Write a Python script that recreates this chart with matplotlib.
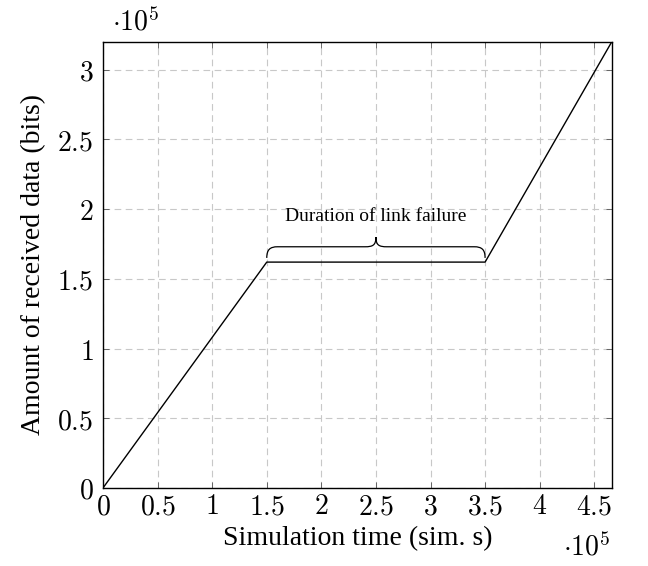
import matplotlib
matplotlib.use("Agg")
import matplotlib.pyplot as plt
from matplotlib.path import Path
from matplotlib.patches import PathPatch
from matplotlib.ticker import FuncFormatter

plt.rcParams['mathtext.fontset'] = 'cm'

# Data (in units of 1e5)
time_pts = [0.0, 1.5, 3.5, 4.66]
data_pts = [0.0, 1.62, 1.62, 3.2]
failure_start = 1.5
failure_end = 3.5
x_ticks = [0, 0.5, 1, 1.5, 2, 2.5, 3, 3.5, 4, 4.5]
y_ticks = [0, 0.5, 1, 1.5, 2, 2.5, 3]
xmax, ymax = 4.66, 3.2

fig = plt.figure(figsize=(6.48, 5.66), dpi=100)
ax = fig.add_axes([0.159, 0.138, 0.785, 0.788])

ax.plot(time_pts, data_pts, color='black', lw=1.0, zorder=3)
ax.set_xlim(0, xmax)
ax.set_ylim(0, ymax)
ax.set_xticks(x_ticks)
ax.set_yticks(y_ticks)
fmt = FuncFormatter(lambda v, p: r'$%g$' % v)
ax.xaxis.set_major_formatter(fmt)
ax.yaxis.set_major_formatter(fmt)
ax.tick_params(direction='in', length=4, width=0.6, color='#555555',
               top=True, right=True, labelsize=20)
ax.tick_params(axis='y', pad=7)
ax.tick_params(axis='x', pad=3)
ax.grid(True, color='#c8c8c8', linestyle=(0, (6, 4)), lw=0.8)
for s in ax.spines.values():
    s.set_linewidth(1.0)

serif = ['Liberation Serif', 'DejaVu Serif']
ax.set_xlabel('Simulation time (sim. s)', fontsize=20, family=serif, labelpad=4)
ax.set_ylabel('Amount of received data (bits)', fontsize=20, family=serif, labelpad=8)

# Brace above the flat segment
level = data_pts[1]
b0 = level + 0.03
b1 = level + 0.11
b2 = level + 0.18
mid = (failure_start + failure_end) / 2
w = 0.1
verts = [
    (failure_start, b0),
    (failure_start, b1 - 0.02), (failure_start + 0.03, b1), (failure_start + w, b1),
    (mid - w, b1),
    (mid - 0.03, b1), (mid, b1 + 0.01), (mid, b2),
    (mid, b1 + 0.01), (mid + 0.03, b1), (mid + w, b1),
    (failure_end - w, b1),
    (failure_end - 0.03, b1), (failure_end, b1 - 0.02), (failure_end, b0),
]
codes = [Path.MOVETO,
         Path.CURVE4, Path.CURVE4, Path.CURVE4,
         Path.LINETO,
         Path.CURVE4, Path.CURVE4, Path.CURVE4,
         Path.CURVE4, Path.CURVE4, Path.CURVE4,
         Path.LINETO,
         Path.CURVE4, Path.CURVE4, Path.CURVE4]
ax.add_patch(PathPatch(Path(verts, codes), fill=False, edgecolor='black', lw=0.9, zorder=3))
ax.text(mid, b2 + 0.15, 'Duration of link failure', ha='center', va='center',
        fontsize=14, family=serif, zorder=4)

fig.text(112 / 648, 1 - 22 / 566, r'$\cdot 10^5$', fontsize=20, ha='left', va='center')
fig.text(563 / 648, 1 - 547 / 566, r'$\cdot 10^5$', fontsize=20, ha='left', va='center')

fig.savefig('out.png', dpi=100)
